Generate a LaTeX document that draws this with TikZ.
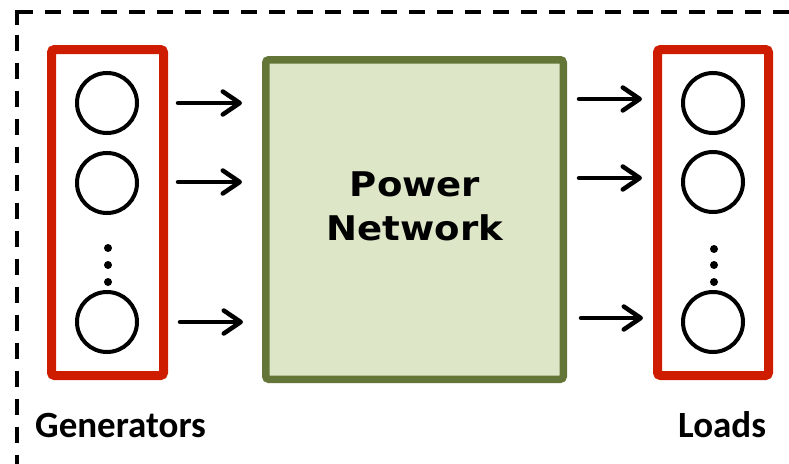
\documentclass[tikz,border=0pt]{standalone}
\usepackage{fontspec}
\usepackage{graphicx}
\usetikzlibrary{arrows.meta}
\newfontfamily\labelfont{Carlito}
\newfontfamily\netfont{DejaVu Sans}
\definecolor{boxred}{RGB}{206,28,0}
\definecolor{netfill}{RGB}{222,230,200}
\definecolor{netedge}{RGB}{100,117,56}
\tikzset{
  frameline/.style={line width=4pt, black},
  unitbox/.style={line width=9pt, boxred, rounded corners=3pt},
  netbox/.style={line width=7.5pt, draw=netedge, fill=netfill, rounded corners=3pt},
  unit/.style={circle, draw=black, line width=4pt, minimum size=60pt, inner sep=0pt},
  ellipsisdot/.style={circle, fill=black, minimum size=8pt, inner sep=0pt},
  flow/.style={line width=4.5pt, line cap=round,
    -{Straight Barb[length=17pt, width=23pt, line width=4.5pt, round]}},
  nettext/.style={font=\netfont\bfseries\fontsize{34}{40}\selectfont, anchor=base, inner sep=0pt},
  labeltext/.style={font=\labelfont\bfseries\fontsize{37}{42}\selectfont, anchor=base west, inner sep=0pt}
}
\begin{document}
\begin{tikzpicture}[x=1pt, y=-1pt]
\useasboundingbox (0,0) rectangle (789,463);
\clip (0,0) rectangle (789,463);

% dashed outer frame (its right and bottom sides lie outside the page)
\draw[frameline, line join=miter] (16.5,25) -- (16.5,12) -- (32.5,12);
\draw[frameline, dash pattern=on 16pt off 12pt] (44.5,12) -- (800,12);
\draw[frameline, dash pattern=on 16pt off 12pt] (16.5,35) -- (16.5,480);

% generator and load groups
\draw[unitbox] (51.5,49.5) rectangle (163.5,375.5);
\draw[unitbox] (657.5,49.5) rectangle (768.5,375.5);

% power network block
\node[netbox, minimum width=297.5pt, minimum height=319.5pt, inner sep=0pt] (net) at (414.5,219.5) {};
\node[nettext] (netA) at (415,196) {\scalebox{1.09}[1]{Power}};
\node[nettext] (netB) at (415,240) {\scalebox{1.09}[1]{Network}};

% generators
\node[unit] (g1) at (107,103) {};
\node[unit] (g2) at (107,183) {};
\node[unit] (g3) at (107,322) {};
\node[ellipsisdot] (gd1) at (108,248) {};
\node[ellipsisdot] (gd2) at (108,265) {};
\node[ellipsisdot] (gd3) at (108,282) {};

% loads
\node[unit] (l1) at (713,103) {};
\node[unit] (l2) at (713,182) {};
\node[unit] (l3) at (713,322) {};
\node[ellipsisdot] (ld1) at (714,249) {};
\node[ellipsisdot] (ld2) at (714,265) {};
\node[ellipsisdot] (ld3) at (714,282) {};

% arrow end points
\coordinate (ga1) at (178,103);  \coordinate (gb1) at (242,103);
\coordinate (ga2) at (178,182);  \coordinate (gb2) at (242,182);
\coordinate (ga3) at (180,322);  \coordinate (gb3) at (243,322);
\coordinate (la1) at (579,99);   \coordinate (lb1) at (642,99);
\coordinate (la2) at (579,178);  \coordinate (lb2) at (642,178);
\coordinate (la3) at (581,318);  \coordinate (lb3) at (643,318);

\draw[flow] (ga1) -- (gb1);
\draw[flow] (ga2) -- (gb2);
\draw[flow] (ga3) -- (gb3);
\draw[flow] (la1) -- (lb1);
\draw[flow] (la2) -- (lb2);
\draw[flow] (la3) -- (lb3);

% labels
\node[labeltext] (gen) at (35,437) {Generators};
\node[labeltext] (load) at (678,437) {Loads};
\end{tikzpicture}
\end{document}
